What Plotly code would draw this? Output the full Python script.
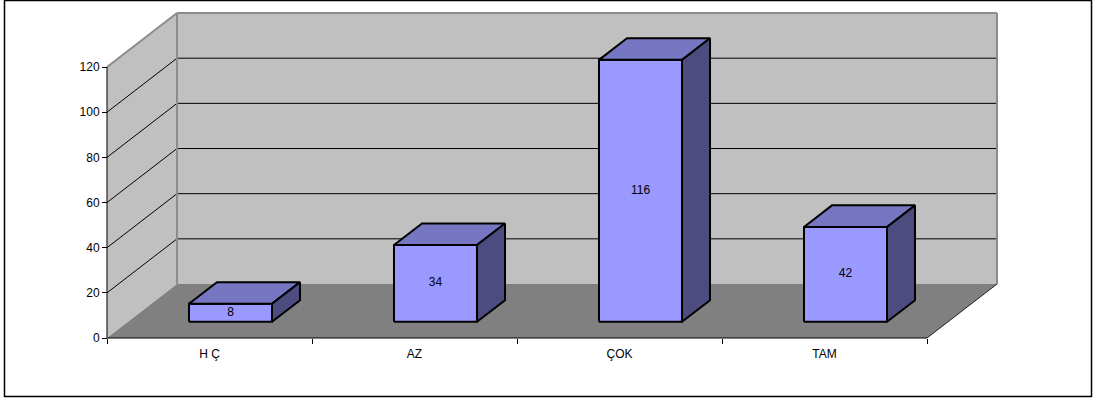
import plotly.graph_objects as go

# ---- data ----
categories = ["H Ç", "AZ", "ÇOK", "TAM"]
values = [8, 34, 116, 42]
y_ticks = [0, 20, 40, 60, 80, 100, 120]
y_max = 120

# ---- geometry (pixels) ----
FIG_W, FIG_H = 1097, 398
ML, MR, MT, MB = 97, 97, 10, 50
PW, PH = FIG_W - ML - MR, FIG_H - MT - MB
PX_CAT = 205.0      # pixels per category
PX_VAL = 2.258      # pixels per value unit
PAD_X, PAD_Y = 10, 10  # data origin offset inside the plot area
X0 = -PAD_X / PX_CAT
Y0 = -PAD_Y / PX_VAL
OX = 70 / PX_CAT    # depth offset in category units
OY = 54 / PX_VAL    # depth offset in value units
BAR_HALF = 0.2025
D0, D1 = 0.3, 0.7
n = len(categories)
FONT = "Liberation Sans, Arial"


def P(x, v, d):
    return (x + d * OX, v + d * OY)


fig = go.Figure()


def poly(pts, fill, lc="rgba(0,0,0,0)", lw=0):
    xs = [p[0] for p in pts] + [pts[0][0]]
    ys = [p[1] for p in pts] + [pts[0][1]]
    fig.add_trace(go.Scatter(x=xs, y=ys, mode="lines", fill="toself",
                             fillcolor=fill, line=dict(color=lc, width=lw),
                             hoverinfo="skip", showlegend=False))


def segs(lines, color, width):
    xs, ys = [], []
    for a, b in lines:
        xs += [a[0], b[0], None]
        ys += [a[1], b[1], None]
    fig.add_trace(go.Scatter(x=xs, y=ys, mode="lines",
                             line=dict(color=color, width=width),
                             hoverinfo="skip", showlegend=False))


WALL = "#C0C0C0"
FLOOR = "#808080"
EDGE = "#8C8C8C"

# back wall
poly([P(0, 0, 1), P(0, y_max, 1), P(n, y_max, 1), P(n, 0, 1)], WALL)
# left wall
poly([P(0, 0, 0), P(0, y_max, 0), P(0, y_max, 1), P(0, 0, 1)], WALL)
# floor
poly([P(0, 0, 0), P(n, 0, 0), P(n, 0, 1), P(0, 0, 1)], FLOOR)

# gridlines
grid = []
for v in y_ticks:
    if 0 < v < y_max:
        grid.append((P(0, v, 0), P(0, v, 1)))
        grid.append((P(0, v, 1), P(n, v, 1)))
segs(grid, "#000000", 1)

# wall edges
segs([(P(0, y_max, 0), P(0, y_max, 1)),
      (P(0, y_max, 1), P(n, y_max, 1)),
      (P(0, 0, 1), P(0, y_max, 1)),
      (P(n, 0, 1), P(n, y_max, 1))], EDGE, 2)
segs([(P(n, 0, 0), P(n, 0, 1))], "#202020", 1)

# bars
FRONT, TOP, SIDE = "#9999FF", "#7676C2", "#4C4C80"
for i, v in enumerate(values):
    c = i + 0.5
    xl, xr = c - BAR_HALF, c + BAR_HALF
    poly([P(xl, 0, D0), P(xr, 0, D0), P(xr, v, D0), P(xl, v, D0)], FRONT, "#000000", 2)
    poly([P(xl, v, D0), P(xr, v, D0), P(xr, v, D1), P(xl, v, D1)], TOP, "#000000", 2)
    poly([P(xr, 0, D0), P(xr, 0, D1), P(xr, v, D1), P(xr, v, D0)], SIDE, "#000000", 2)

# value labels
lx, ly = [], []
for i, v in enumerate(values):
    p = P(i + 0.5, v / 2, D0)
    lx.append(p[0])
    ly.append(p[1])
fig.add_trace(go.Scatter(x=lx, y=ly, mode="text", text=[str(v) for v in values],
                         textfont=dict(family=FONT, size=12, color="#000000"),
                         hoverinfo="skip", showlegend=False))

# axis lines
segs([(P(0, 0, 0), P(0, y_max, 0)), (P(0, 0, 0), P(n, 0, 0))], "#000000", 1)

fig.update_layout(
    width=FIG_W, height=FIG_H,
    margin=dict(l=ML, r=MR, t=MT, b=MB, pad=0),
    paper_bgcolor="#FFFFFF", plot_bgcolor="#FFFFFF",
    font=dict(family=FONT, size=12, color="#000000"),
    xaxis=dict(range=[X0, X0 + PW / PX_CAT], showgrid=False, zeroline=False,
               showline=False, tickmode="array",
               tickvals=[i + 0.5 for i in range(n)], ticktext=categories,
               ticks="", anchor="free", position=PAD_Y / PH,
               ticklabelstandoff=7,
               tickfont=dict(family=FONT, size=12, color="#000000"),
               minor=dict(ticks="outside", tickvals=list(range(n + 1)),
                          ticklen=5, tickcolor="#000000", tickwidth=1),
               fixedrange=True),
    yaxis=dict(range=[Y0, Y0 + PH / PX_VAL], showgrid=False, zeroline=False,
               showline=False, tickmode="array", tickvals=y_ticks,
               ticks="outside", ticklen=5, tickcolor="#000000",
               tickfont=dict(family=FONT, size=12, color="#000000"),
               anchor="free", position=PAD_X / PW, fixedrange=True),
    shapes=[dict(type="rect", xref="paper", yref="paper",
                 x0=(4.5 - ML) / PW, x1=(1091.5 - ML) / PW,
                 y0=(FIG_H - MB - 396.5) / PH, y1=(FIG_H - MB - 0.5) / PH,
                 line=dict(color="#000000", width=1.5), layer="above")],
)

fig.write_html("out.html")
